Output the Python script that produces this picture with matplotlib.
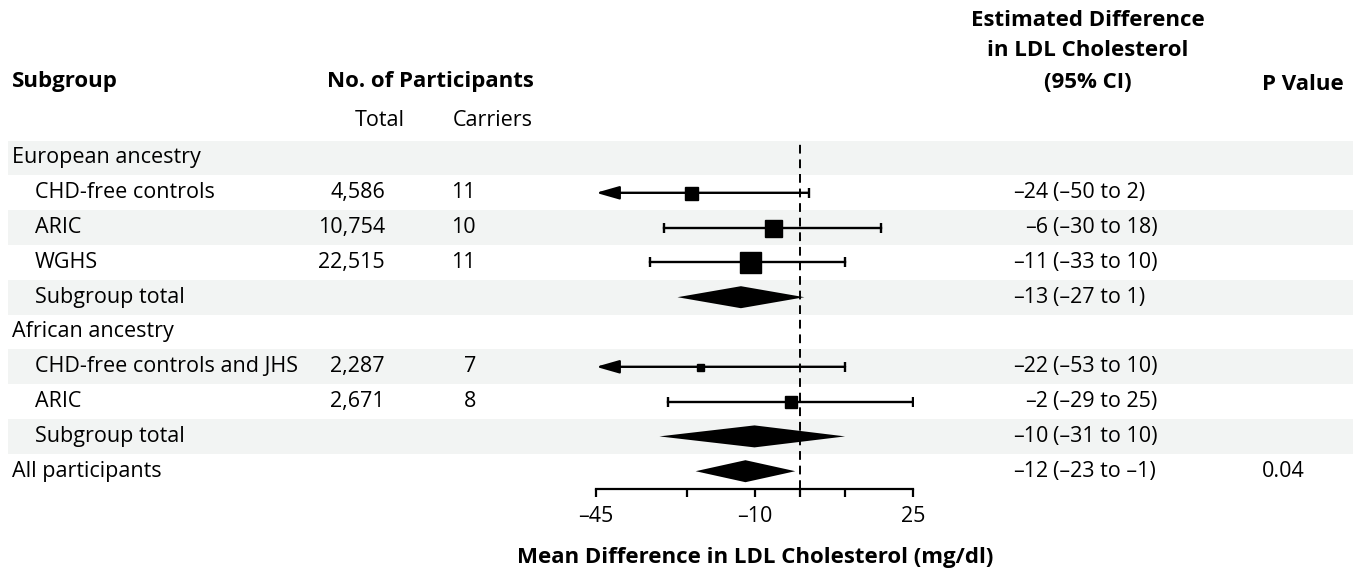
import numpy as np
import matplotlib.pyplot as plt
from matplotlib.transforms import blended_transform_factory

plt.rcParams['font.family'] = ['Open Sans', 'DejaVu Sans']

# Data
labels = ['European ancestry', 'CHD-free controls', 'ARIC', 'WGHS', 'Subgroup total',
          'African ancestry', 'CHD-free controls and JHS', 'ARIC', 'Subgroup total',
          'All participants']
kind = ['head', 'study', 'study', 'study', 'total',
        'head', 'study', 'study', 'total', 'overall']
totals = ['', '4,586', '10,754', '22,515', '', '', '2,287', '2,671', '', '']
carriers = ['', '11', '10', '11', '', '', '7', '8', '', '']
est = [np.nan, -24, -6, -11, -13, np.nan, -22, -2, -10, -12]
lo = [np.nan, -50, -30, -33, -27, np.nan, -53, -29, -31, -23]
hi = [np.nan, 2, 18, 10, 1, np.nan, 10, 25, 10, -1]
p_values = ['', '', '', '', '', '', '', '', '', '0.04']

xticks = [-45, -25, -10, 0, 10, 25]
xticklabels = ['–45', '', '–10', '', '', '25']

# square sizes (pixels) for each study row
box_px = {1: 13, 2: 17, 3: 21, 6: 7, 7: 12}

W, H = 1361, 576
row0, row_h = 158, 34.8     # pixel centre of first row, row height
fs = 15.5
fsb = 16

fig = plt.figure(figsize=(W / 100, H / 100), dpi=100)
ax = fig.add_axes([596 / W, 0, 317 / W, 1])
ax.set_xlim(-45, 25)
ax.set_ylim((H - row0) / row_h, -row0 / row_h)
ax.patch.set_visible(False)

def fy(py):
    return 1 - py / H

def minus(v):
    return f'{v:g}'.replace('-', '–')

# shaded bands
for i in range(0, len(labels), 2):
    ax.axhspan(i - 0.5, i + 0.5, xmin=(8 - 596) / 317, xmax=(1353 - 596) / 317,
               color='#f2f4f3', zorder=0, clip_on=False, lw=0)

# null line
ax.axvline(0, ymin=fy(489), ymax=fy(141), color='k', lw=1.4, dashes=(4.5, 3), zorder=1)

tr = blended_transform_factory(fig.transFigure, ax.transData)
for i, lab in enumerate(labels):
    indent = 35 if kind[i] in ('study', 'total') else 12
    ax.text(indent / W, i, lab, transform=tr, fontsize=fs, va='center', ha='left')
    ax.text(385 / W, i, totals[i], transform=tr, fontsize=fs, va='center', ha='right')
    ax.text(476 / W, i, carriers[i], transform=tr, fontsize=fs, va='center', ha='right')
    ax.text(1305 / W, i, p_values[i], transform=tr, fontsize=fs, va='center', ha='right')
    if np.isnan(est[i]):
        continue
    ax.text(1048 / W, i, minus(est[i]), transform=tr, fontsize=fs, va='center', ha='right')
    ax.text(1053 / W, i, f'({minus(lo[i])} to {minus(hi[i])})', transform=tr,
            fontsize=fs, va='center', ha='left')

    if kind[i] == 'study':
        left = max(lo[i], -45)
        if lo[i] < -45:
            ax.annotate('', xy=(-45, i), xytext=(hi[i], i),
                        arrowprops=dict(arrowstyle='-|>,head_length=0.7,head_width=0.2',
                                        mutation_scale=20, lw=1.7, color='k',
                                        shrinkA=0, shrinkB=0))
            caps = [hi[i]]
        else:
            ax.plot([left, hi[i]], [i, i], color='k', lw=1.7)
            caps = [left, hi[i]]
        ax.plot(caps, [i] * len(caps), ls='none', marker='|', color='k',
                markersize=6.5, markeredgewidth=1.7)
        ax.plot(est[i], i, marker='s', color='k', markersize=box_px[i] * 0.72, zorder=3)
    else:
        d = 11 / row_h
        ax.fill([lo[i], est[i], hi[i], est[i]], [i, i - d, i, i + d], color='k', lw=0, zorder=3)

# axis
for s in ['left', 'right', 'top']:
    ax.spines[s].set_visible(False)
ax.spines['bottom'].set_position(('data', (489 - row0) / row_h))
ax.spines['bottom'].set_linewidth(1.6)
ax.set_xticks(xticks)
ax.set_xticklabels(xticklabels, fontsize=fs)
ax.tick_params(axis='x', length=6, width=1.6, pad=6)
ax.set_yticks([])

# headers
fig.text(12 / W, fy(82), 'Subgroup', fontsize=fsb, fontweight='bold', va='center')
fig.text(430 / W, fy(82), 'No. of Participants', fontsize=fsb, fontweight='bold',
         va='center', ha='center')
fig.text(380 / W, fy(120), 'Total', fontsize=fs, va='center', ha='center')
fig.text(493 / W, fy(120), 'Carriers', fontsize=fs, va='center', ha='center')
for py, line in zip([20, 51, 83], ['Estimated Difference', 'in LDL Cholesterol', '(95% CI)']):
    fig.text(1088 / W, fy(py), line, fontsize=fsb, fontweight='bold', va='center', ha='center')
fig.text(1303 / W, fy(84), 'P Value', fontsize=fsb, fontweight='bold', va='center', ha='center')
fig.text(755 / W, fy(558), 'Mean Difference in LDL Cholesterol (mg/dl)', fontsize=fsb,
         fontweight='bold', va='center', ha='center')

fig.savefig('out.png', dpi=100)
